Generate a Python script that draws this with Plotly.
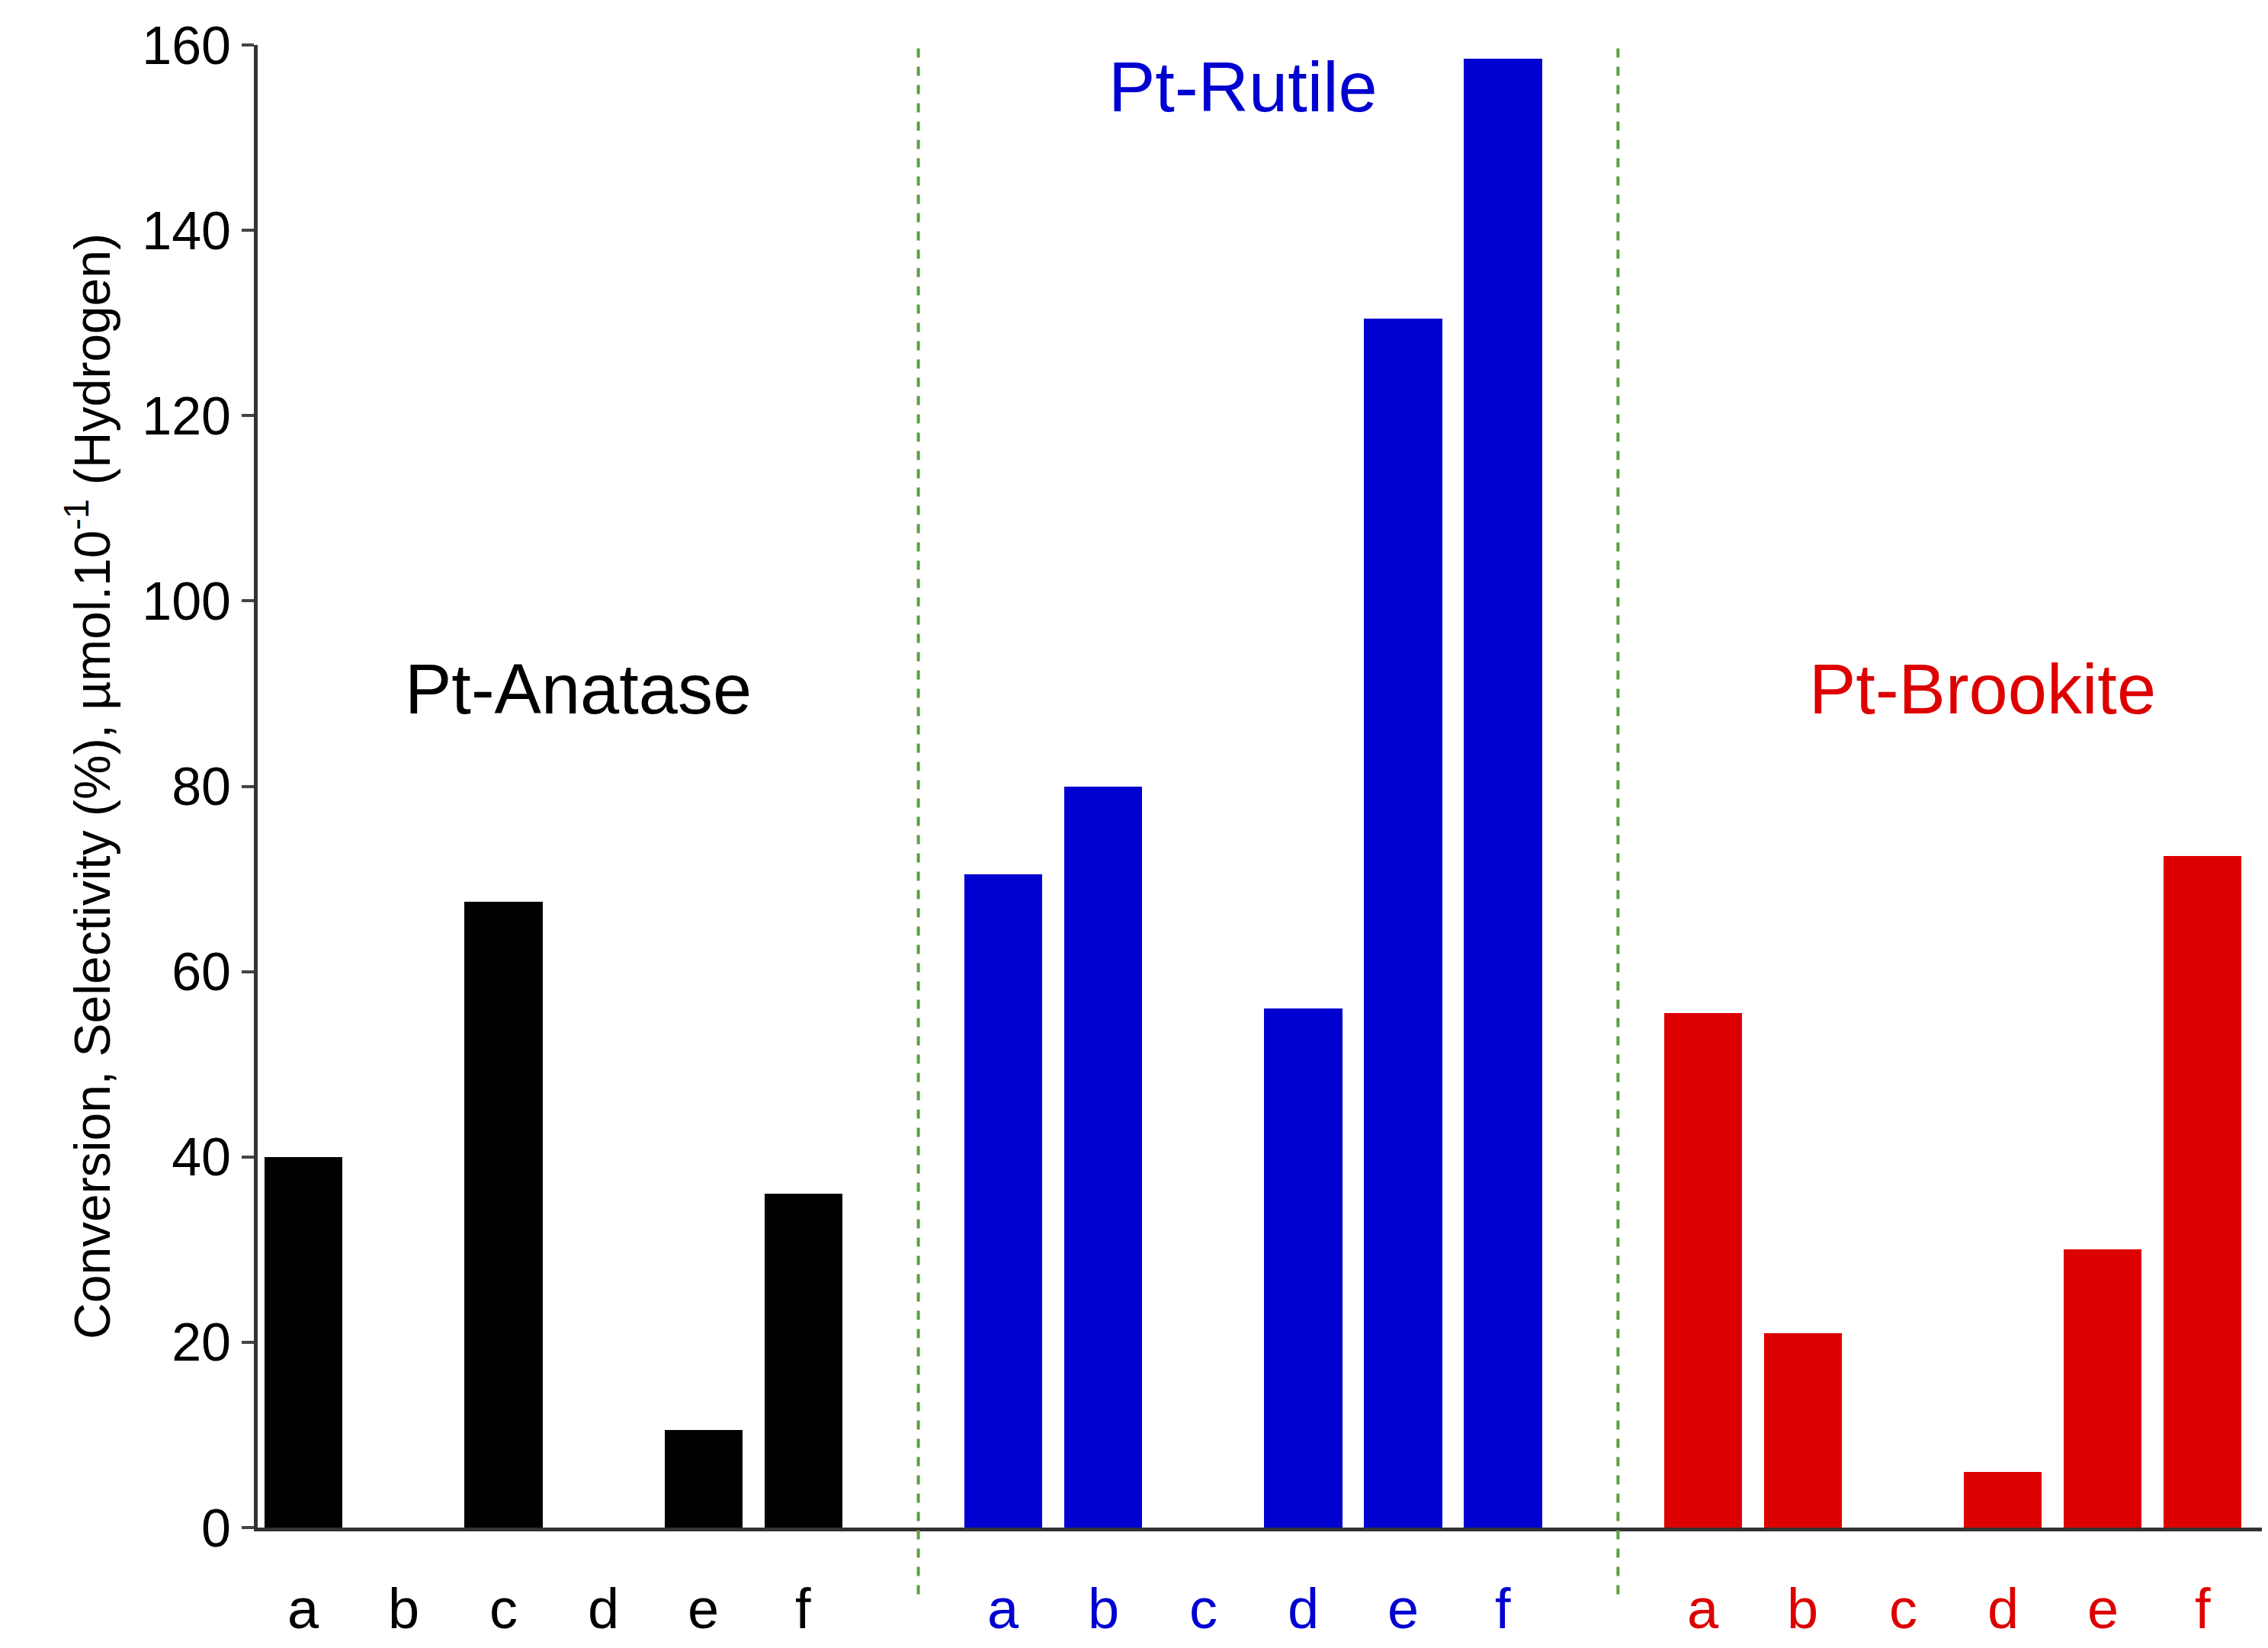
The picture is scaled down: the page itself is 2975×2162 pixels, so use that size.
import plotly.graph_objects as go

letters = ["a", "b", "c", "d", "e", "f"]
anatase = [40, 0, 67.5, 0, 10.5, 36]
rutile = [70.5, 80, 0, 56, 130.5, 158.5]
brookite = [55.5, 21, 0, 6, 30, 72.5]

groups = [
    ("Pt-Anatase", anatase, "#000000", 0),
    ("Pt-Rutile", rutile, "#0000d0", 7),
    ("Pt-Brookite", brookite, "#dd0000", 14),
]

fig = go.Figure()
for name, vals, col, off in groups:
    xs = [off + i for i in range(len(vals))]
    fig.add_trace(go.Bar(x=xs, y=vals, marker=dict(color=col, line_width=0),
                         width=0.78, name=name, showlegend=False))
    for xi, lab in zip(xs, letters):
        fig.add_annotation(x=xi, y=0, yref="y", text=lab, showarrow=False,
                           yshift=-106, font=dict(size=74, color=col))

fig.add_annotation(x=2.75, y=90.5, text="Pt-Anatase", showarrow=False,
                   font=dict(size=92, color="#000000"))
fig.add_annotation(x=9.4, y=155.5, text="Pt-Rutile", showarrow=False,
                   font=dict(size=92, color="#0000d0"))
fig.add_annotation(x=16.8, y=90.5, text="Pt-Brookite", showarrow=False,
                   font=dict(size=92, color="#dd0000"))

for xv in [6.15, 13.15]:
    fig.add_shape(type="line", x0=xv, x1=xv, xref="x", yref="paper",
                  y0=-0.045, y1=1.0,
                  line=dict(color="#5aa040", width=4, dash="dash"))

fig.update_layout(
    width=2975, height=2162,
    paper_bgcolor="white", plot_bgcolor="white",
    margin=dict(l=330, r=15, t=45, b=166),
    font=dict(family="Liberation Sans, Arial", color="#000000"),
    bargap=0,
    xaxis=dict(range=[-0.46, 19.6], showticklabels=False, ticks="",
               showgrid=False, zeroline=False, showline=True,
               linecolor="#333333", linewidth=5),
    yaxis=dict(range=[0, 160], dtick=20, ticks="outside", ticklen=16,
               tickwidth=4, showgrid=False, zeroline=False, showline=True,
               linecolor="#333333", linewidth=5,
               tickfont=dict(size=70),
               title=dict(text="Conversion, Selectivity (%), µmol.10<sup>-1</sup> (Hydrogen)",
                          font=dict(size=66), standoff=22)),
)

fig.write_html("out.html")
